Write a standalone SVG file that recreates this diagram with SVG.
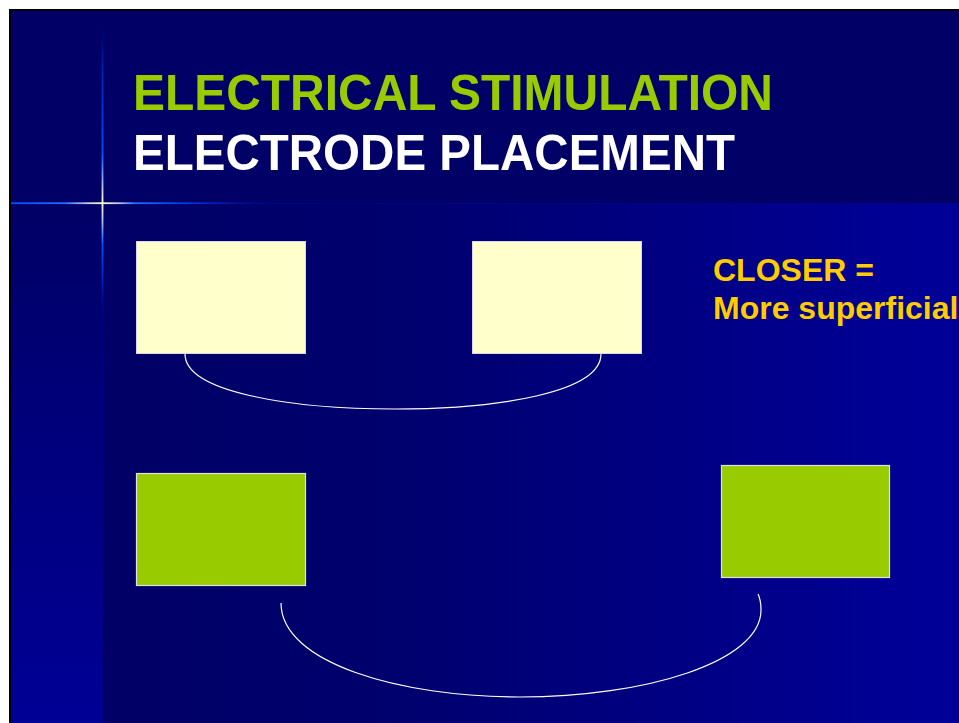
<svg xmlns="http://www.w3.org/2000/svg" width="959" height="723" viewBox="0 0 959 723">
  <defs>
    <linearGradient id="gMain" x1="0" y1="0" x2="1" y2="0">
      <stop offset="0" stop-color="#000066"/>
      <stop offset="0.35" stop-color="#00006e"/>
      <stop offset="1" stop-color="#000099"/>
    </linearGradient>
    <linearGradient id="gStrip" x1="0" y1="0" x2="0" y2="1">
      <stop offset="0" stop-color="#000066"/>
      <stop offset="1" stop-color="#000096"/>
    </linearGradient>
    <linearGradient id="gHoriz" gradientUnits="userSpaceOnUse" x1="11" y1="0" x2="280" y2="0">
      <stop offset="0" stop-color="#0050ff"/>
      <stop offset="0.2" stop-color="#2a6aff"/>
      <stop offset="0.28" stop-color="#b8c8f0"/>
      <stop offset="0.338" stop-color="#ffffcc"/>
      <stop offset="0.4" stop-color="#b8c8f0"/>
      <stop offset="0.46" stop-color="#2a6aff"/>
      <stop offset="0.6" stop-color="#0048ee"/>
      <stop offset="0.8" stop-color="#0020bb" stop-opacity="0.7"/>
      <stop offset="1" stop-color="#000088" stop-opacity="0"/>
    </linearGradient>
    <linearGradient id="gVert" gradientUnits="userSpaceOnUse" x1="0" y1="25" x2="0" y2="310">
      <stop offset="0" stop-color="#0010aa" stop-opacity="0"/>
      <stop offset="0.15" stop-color="#0030cc" stop-opacity="0.7"/>
      <stop offset="0.45" stop-color="#0050ff"/>
      <stop offset="0.56" stop-color="#a8bff0"/>
      <stop offset="0.625" stop-color="#ffffcc"/>
      <stop offset="0.69" stop-color="#a8bff0"/>
      <stop offset="0.77" stop-color="#0050ff"/>
      <stop offset="0.9" stop-color="#0030cc" stop-opacity="0.7"/>
      <stop offset="1" stop-color="#000099" stop-opacity="0.3"/>
    </linearGradient>
    <style>
      .title { font-family: "Liberation Sans", Arial, sans-serif; font-weight: bold; font-size: 50px; }
      .note { font-family: "Liberation Sans", Arial, sans-serif; font-weight: bold; font-size: 32px; fill: #FFCC00; }
      .cream { fill: #FFFFCC; stroke: #d8d8e8; stroke-width: 1; }
      .green { fill: #99CC00; stroke: #e0e0e0; stroke-width: 1.2; }
      .arc { fill: none; stroke: #ffffff; stroke-width: 1.2; }
    </style>
  </defs>

  <!-- background -->
  <rect x="0" y="0" width="959" height="723" fill="#ffffff"/>
  <rect x="9" y="9" width="950" height="714" fill="#000000"/>
  <rect x="11" y="11" width="948" height="193" fill="#000066"/>
  <rect x="11" y="204" width="91" height="519" fill="url(#gStrip)"/>
  <rect x="102" y="204" width="857" height="519" fill="url(#gMain)"/>
  <line x1="102.5" y1="204" x2="102.5" y2="723" stroke="#000088" stroke-width="1"/>
  <line x1="11" y1="203.5" x2="959" y2="203.5" stroke="#000088" stroke-width="1"/>

  <!-- sparkle -->
  <g id="sparkle">
    <rect x="11" y="202.3" width="269" height="1.8" fill="url(#gHoriz)"/>
    <rect x="101.6" y="25" width="1.8" height="285" fill="url(#gVert)"/>
  </g>

  <!-- titles -->
  <text class="title" x="133" y="110" fill="#99CC00" textLength="640" lengthAdjust="spacingAndGlyphs">ELECTRICAL STIMULATION</text>
  <text class="title" x="133" y="170" fill="#ffffff" textLength="602" lengthAdjust="spacingAndGlyphs">ELECTRODE PLACEMENT</text>

  <text class="note" x="713" y="281">CLOSER =</text>
  <text class="note" x="713" y="319">More superficial</text>

  <!-- nodes -->
  <g id="cream-left"><rect class="cream" x="136.5" y="241.5" width="169" height="112"/></g>
  <g id="cream-right"><rect class="cream" x="472.5" y="241.5" width="169" height="112"/></g>
  <g id="green-left"><rect class="green" x="136.5" y="473.5" width="169" height="112"/></g>
  <g id="green-right"><rect class="green" x="721.5" y="465.5" width="168" height="112"/></g>

  <!-- connectors -->
  <g id="connectors">
    <path class="arc" d="M185,354 C185,392 290,409 395,409 C500,409 601,392 601,354"/>
    <path class="arc" d="M281,603 C281,663 400,697 520,697 C645,697 761,662 761,610 C761,603 760,598 758,594"/>
  </g>
</svg>
